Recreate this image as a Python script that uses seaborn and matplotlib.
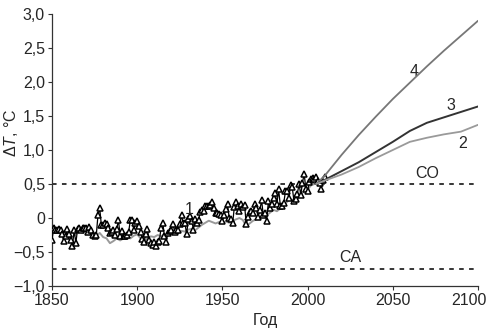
import numpy as np
import pandas as pd
import matplotlib
matplotlib.use("Agg")
import matplotlib.pyplot as plt
import seaborn as sns
from matplotlib.ticker import FixedLocator, FixedFormatter
from matplotlib.transforms import ScaledTranslation

# ---- data ----
obs_years = list(range(1850, 2011))
obs_values = [
    -0.32, -0.15, -0.17, -0.18, -0.16, -0.18, -0.24, -0.34, -0.26, -0.16,  # 1850-59
    -0.24, -0.32, -0.41, -0.18, -0.37, -0.16, -0.14, -0.18, -0.14, -0.14,  # 1860-69
    -0.15, -0.21, -0.13, -0.17, -0.25, -0.26, -0.25, 0.05, 0.14, -0.11,    # 1870-79
    -0.11, -0.08, -0.09, -0.14, -0.22, -0.20, -0.18, -0.25, -0.16, -0.03,  # 1880-89
    -0.26, -0.19, -0.26, -0.26, -0.25, -0.20, -0.03, -0.03, -0.17, -0.08,  # 1890-99
    -0.04, -0.12, -0.20, -0.31, -0.36, -0.23, -0.16, -0.33, -0.37, -0.39,  # 1900-09
    -0.36, -0.41, -0.35, -0.34, -0.14, -0.07, -0.27, -0.35, -0.22, -0.19,  # 1910-19
    -0.17, -0.09, -0.20, -0.18, -0.18, -0.09, 0.04, -0.08, -0.07, -0.24,   # 1920-29
    -0.02, 0.03, -0.04, -0.17, -0.01, -0.08, -0.03, 0.09, 0.12, 0.10,      # 1930-39
    0.17, 0.18, 0.17, 0.19, 0.24, 0.15, 0.07, 0.07, 0.06, 0.05,            # 1940-49
    -0.05, 0.05, 0.13, 0.20, 0.00, -0.02, -0.08, 0.16, 0.23, 0.18,         # 1950-59
    0.11, 0.20, 0.16, 0.19, -0.09, 0.01, 0.09, 0.11, 0.08, 0.20,           # 1960-69
    0.15, 0.02, 0.12, 0.26, 0.04, 0.07, -0.04, 0.25, 0.14, 0.21,           # 1970-79
    0.30, 0.37, 0.21, 0.42, 0.18, 0.17, 0.22, 0.39, 0.40, 0.30,            # 1980-89
    0.48, 0.45, 0.25, 0.28, 0.36, 0.50, 0.34, 0.52, 0.65, 0.42,            # 1990-99
    0.40, 0.53, 0.58, 0.59, 0.57, 0.60, 0.55, 0.52, 0.43, 0.56, 0.60,      # 2000-10
]

model_years = list(range(1850, 2009, 2))
model_values = [
    -0.20, -0.22, -0.20, -0.24, -0.22, -0.25, -0.28, -0.24, -0.20, -0.22,
    -0.20, -0.22, -0.24, -0.26, -0.22, -0.28, -0.30, -0.37, -0.34, -0.30,
    -0.33, -0.30, -0.27, -0.30, -0.26, -0.24, -0.30, -0.34, -0.30, -0.27,
    -0.28, -0.25, -0.27, -0.24, -0.26, -0.23, -0.21, -0.22, -0.19, -0.20,
    -0.17, -0.16, -0.18, -0.14, -0.10, -0.07, -0.04, -0.06, -0.08, -0.06,
    -0.08, -0.05, -0.07, -0.04, -0.02, 0.00, -0.03, -0.12, -0.08, -0.04,
    -0.02, 0.00, 0.03, 0.04, 0.08, 0.12, 0.10, 0.14, 0.18, 0.24,
    0.28, 0.22, 0.28, 0.34, 0.40, 0.42, 0.48, 0.50, 0.52, 0.55,
]

proj_years = [2005, 2010, 2020, 2030, 2040, 2050, 2060, 2070, 2080, 2090, 2100]
proj2 = [0.50, 0.55, 0.64, 0.75, 0.88, 1.00, 1.12, 1.18, 1.23, 1.27, 1.37]
proj3 = [0.50, 0.56, 0.69, 0.82, 0.97, 1.12, 1.28, 1.40, 1.48, 1.56, 1.64]
proj4 = [0.50, 0.62, 0.93, 1.22, 1.49, 1.75, 1.99, 2.23, 2.46, 2.68, 2.90]

level_CO = 0.5
level_CA = -0.75

xticks = [1850, 1900, 1950, 2000, 2050, 2100]
yticks = [3.0, 2.5, 2.0, 1.5, 1.0, 0.5, 0.0, -0.5, -1.0]
ytick_labels = ["3,0", "2,5", "2,0", "1,5", "1,0", "0,5", "0", "\u22120,5", "\u22121,0"]

# ---- style ----
sns.set_style("ticks")
main_font = "Liberation Sans"
fs = 11.5
plt.rcParams["font.family"] = [main_font, "DejaVu Sans"]
plt.rcParams["mathtext.fontset"] = "custom"
plt.rcParams["mathtext.rm"] = main_font
plt.rcParams["mathtext.it"] = main_font + ":italic"

fig = plt.figure(figsize=(4.87, 3.29), dpi=100)
ax = fig.add_axes([52 / 487, 1 - 286 / 329, 426 / 487, 272 / 329])

ax.axhline(level_CO, color="black", lw=1.1, ls=(0, (3, 3.5)), zorder=1)
ax.axhline(level_CA, color="black", lw=1.1, ls=(0, (3, 3.5)), zorder=1)

sns.lineplot(x=model_years, y=model_values, ax=ax, color="#9a9a9a", lw=1.4, zorder=2)
sns.lineplot(x=obs_years, y=obs_values, ax=ax, color="black", lw=0.9,
             marker="^", markersize=4.5, markerfacecolor="white",
             markeredgecolor="black", markeredgewidth=1.1, zorder=3)

sns.lineplot(x=proj_years, y=proj4, ax=ax, color="#777777", lw=1.3, zorder=4)
sns.lineplot(x=proj_years, y=proj3, ax=ax, color="#333333", lw=1.4, zorder=4)
sns.lineplot(x=proj_years, y=proj2, ax=ax, color="#9a9a9a", lw=1.3, zorder=4)

ax.text(1930.4, 0.13, "1", fontsize=fs, ha="center", va="center")
ax.text(2091, 1.10, "2", fontsize=fs, ha="center", va="center")
ax.text(2084, 1.66, "3", fontsize=fs, ha="center", va="center")
ax.text(2062.4, 2.16, "4", fontsize=fs, ha="center", va="center")
ax.text(2070, 0.66, "CO", fontsize=fs, ha="center", va="center")
ax.text(2025, -0.58, "CA", fontsize=fs, ha="center", va="center")

ax.set_xlim(1850, 2100)
ax.set_ylim(-1.0, 3.0)
ax.xaxis.set_major_locator(FixedLocator(xticks))
ax.yaxis.set_major_locator(FixedLocator(yticks))
ax.yaxis.set_major_formatter(FixedFormatter(ytick_labels))
ax.tick_params(axis="both", labelsize=fs, length=3, width=0.8, color="#333333",
               direction="out", pad=2)
for side in ["top", "right"]:
    ax.spines[side].set_visible(False)
for side in ["left", "bottom"]:
    ax.spines[side].set_color("#333333")
    ax.spines[side].set_linewidth(0.9)

ax.set_xlabel("Год", fontsize=fs)
ax.xaxis.set_label_coords(0.5, -0.1)
ax.set_ylabel("$\\Delta T$, °C", fontsize=fs)
ax.yaxis.set_label_coords(-0.075, 0.5625)

fig.canvas.draw()
last = ax.get_xticklabels()[-1]
last.set_transform(last.get_transform() + ScaledTranslation(-9 / 100, 0, fig.dpi_scale_trans))

fig.savefig("out.png", dpi=100)
